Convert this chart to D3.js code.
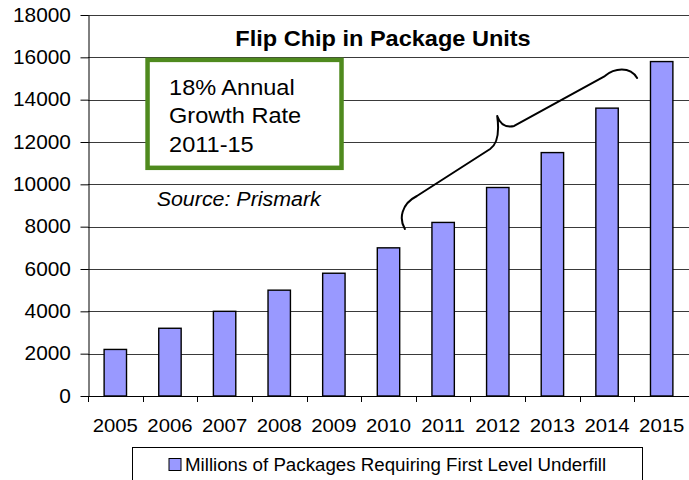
<!DOCTYPE html>
<html>
<head>
<meta charset="utf-8">
<script src="https://cdn.jsdelivr.net/npm/d3@7"></script>
<style>
  html, body { margin: 0; padding: 0; background: #fff; }
  svg { display: block; }
  text { font-family: "Liberation Sans", Arial, Helvetica, sans-serif; fill: #000; }
</style>
</head>
<body>
<svg id="chart" width="689" height="480"></svg>
<script>
// ---- data ----
const years = ["2005", "2006", "2007", "2008", "2009", "2010", "2011", "2012", "2013", "2014", "2015"];
const units = [2200, 3200, 4000, 5000, 5800, 7000, 8200, 9850, 11500, 13600, 15800];
const yTicks = [0, 2000, 4000, 6000, 8000, 10000, 12000, 14000, 16000, 18000];
const titleText = "Flip Chip in Package Units";
const noteLines = ["18% Annual", "Growth Rate", "2011-15"];
const sourceText = "Source: Prismark";
const seriesName = "Millions of Packages Requiring First Level Underfill";
// curly brace spanning 2011-15, as [year, value] anchor points of its path
const braceLow = [[2010.30, 7890], [2010.19, 8362], [2010.23, 9071], [2010.52, 9449]];
const braceMidA = [[2011.86, 11669], [2012.02, 11953], [2012.02, 12661], [2011.99, 13228]];
const braceMidB = [[2012.04, 12850], [2012.13, 12661], [2012.30, 12756]];
const braceHigh = [[2013.96, 15118], [2014.13, 15496], [2014.42, 15591], [2014.55, 15024]];
// note box corners in data space: [year, value]
const noteBox = [[2005.59, 15880], [2009.14, 10780]];

// ---- layout ----
const W = 689, H = 480;
const plot = { left: 88, right: 689, top: 15, bottom: 396 };
const SX = 1.07; // glyphs are drawn slightly wide
const barColor = "#9999ff";

const svg = d3.select("#chart");
svg.append("rect").attr("width", W).attr("height", H).attr("fill", "#fff");

const x = d3.scaleBand().domain(years).range([plot.left, plot.right]).paddingInner(0).paddingOuter(0);
const y = d3.scaleLinear().domain([0, 18000]).range([plot.bottom, plot.top]);
const xYear = d3.scaleLinear()
  .domain([+years[0], +years[years.length - 1]])
  .range([x(years[0]) + x.bandwidth() / 2, x(years[years.length - 1]) + x.bandwidth() / 2]);

function wideText(g, px, py, txt, size, opts = {}) {
  const t = g.append("text")
    .attr("transform", `translate(${px},${py}) scale(${SX},1)`)
    .attr("font-size", size)
    .attr("text-anchor", opts.anchor || "start")
    .text(txt);
  if (opts.weight) t.attr("font-weight", opts.weight);
  if (opts.style) t.attr("font-style", opts.style);
  return t;
}

// gridlines
svg.append("g")
  .selectAll("line")
  .data(yTicks.filter(d => d > 0))
  .join("line")
  .attr("x1", plot.left).attr("x2", plot.right)
  .attr("y1", d => Math.round(y(d)) + 0.5).attr("y2", d => Math.round(y(d)) + 0.5)
  .attr("stroke", "#3a3a3a").attr("stroke-width", 1);

// bars
const barW = x.bandwidth() * 0.41;
svg.append("g")
  .selectAll("rect")
  .data(years.map((yr, i) => ({ yr, v: units[i] })))
  .join("rect")
  .attr("x", d => x(d.yr) + (x.bandwidth() - barW) / 2)
  .attr("y", d => y(d.v))
  .attr("width", barW)
  .attr("height", d => y(0) - y(d.v))
  .attr("fill", barColor)
  .attr("stroke", "#000").attr("stroke-width", 1.4);

// y axis
const yAxis = svg.append("g")
  .attr("transform", `translate(${plot.left + 0.5},0)`)
  .call(d3.axisLeft(y).tickValues(yTicks).tickSize(8).tickPadding(9).tickSizeOuter(0).tickFormat(d3.format("d")));
yAxis.select(".domain").attr("stroke", "#000");
yAxis.selectAll(".tick line").attr("stroke", "#000");
yAxis.selectAll(".tick text")
  .attr("font-size", 19.5)
  .attr("font-family", "Liberation Sans, Arial, sans-serif")
  .attr("fill", "#000")
  .attr("transform", `scale(${SX},1)`)
  .attr("x", -17 / SX * 1.0 - 0.5);

// x axis: labels centred in each category, ticks on category boundaries
const xAxis = svg.append("g")
  .attr("transform", `translate(0,${plot.bottom + 0.5})`)
  .call(d3.axisBottom(x).tickSize(0).tickPadding(22).tickSizeOuter(0));
xAxis.select(".domain").remove();
xAxis.selectAll(".tick text")
  .attr("font-size", 19)
  .attr("font-family", "Liberation Sans, Arial, sans-serif")
  .attr("fill", "#000")
  .attr("transform", `scale(${SX},1)`)
  .attr("x", 0);
xAxis.selectAll(".tick").each(function () {
  // keep the horizontal stretch centred on the tick
  const g = d3.select(this);
  const tr = g.attr("transform");
  const m = /translate\(([-\d.]+),/.exec(tr);
  const cx = +m[1];
  g.attr("transform", `translate(${cx},0)`);
  g.select("text").attr("transform", `scale(${SX},1)`);
});
svg.append("line")
  .attr("x1", plot.left).attr("x2", plot.right)
  .attr("y1", plot.bottom + 0.5).attr("y2", plot.bottom + 0.5)
  .attr("stroke", "#000");
svg.append("g")
  .selectAll("line")
  .data(years)
  .join("line")
  .attr("x1", d => Math.round(x(d)) + 0.5).attr("x2", d => Math.round(x(d)) + 0.5)
  .attr("y1", plot.bottom).attr("y2", plot.bottom + 6)
  .attr("stroke", "#000");

// title
wideText(svg, 383, 46, titleText, 22, { anchor: "middle", weight: "bold" });

// growth-rate note box
const bx0 = xYear(noteBox[0][0]), by0 = y(noteBox[0][1]);
const bx1 = xYear(noteBox[1][0]), by1 = y(noteBox[1][1]);
svg.append("rect")
  .attr("x", bx0).attr("y", by0)
  .attr("width", bx1 - bx0).attr("height", by1 - by0)
  .attr("fill", "#fff")
  .attr("stroke", "#4f8a1e").attr("stroke-width", 4.5);
noteLines.forEach((ln, i) => {
  wideText(svg, bx0 + 21.5, by0 + 34.7 + i * 28.6, ln, 22);
});

// source credit
wideText(svg, 156.7, 206, sourceText, 20, { style: "italic" });

// curly brace over 2011-15
const P = d => [xYear(d[0]), y(d[1])];
const bp = d3.path();
let p = braceLow.map(P);
bp.moveTo(...p[0]);
bp.bezierCurveTo(...p[1], ...p[2], ...p[3]);
p = braceMidA.map(P);
bp.lineTo(...p[0]);
bp.bezierCurveTo(...p[1], ...p[2], ...p[3]);
p = braceMidB.map(P);
bp.bezierCurveTo(...p[0], ...p[1], ...p[2]);
p = braceHigh.map(P);
bp.lineTo(...p[0]);
bp.bezierCurveTo(...p[1], ...p[2], ...p[3]);
svg.append("path")
  .attr("d", bp.toString())
  .attr("fill", "none")
  .attr("stroke", "#000").attr("stroke-width", 2)
  .attr("stroke-linecap", "round").attr("stroke-linejoin", "round");

// legend
const lg = svg.append("g");
lg.append("rect")
  .attr("x", 132.5).attr("y", 447.5).attr("width", 510).attr("height", 50)
  .attr("fill", "#fff").attr("stroke", "#000");
lg.append("rect")
  .attr("x", 169).attr("y", 458.5).attr("width", 12).attr("height", 12)
  .attr("fill", barColor).attr("stroke", "#000");
wideText(lg, 185, 470.5, seriesName, 17.5);
</script>
</body>
</html>
